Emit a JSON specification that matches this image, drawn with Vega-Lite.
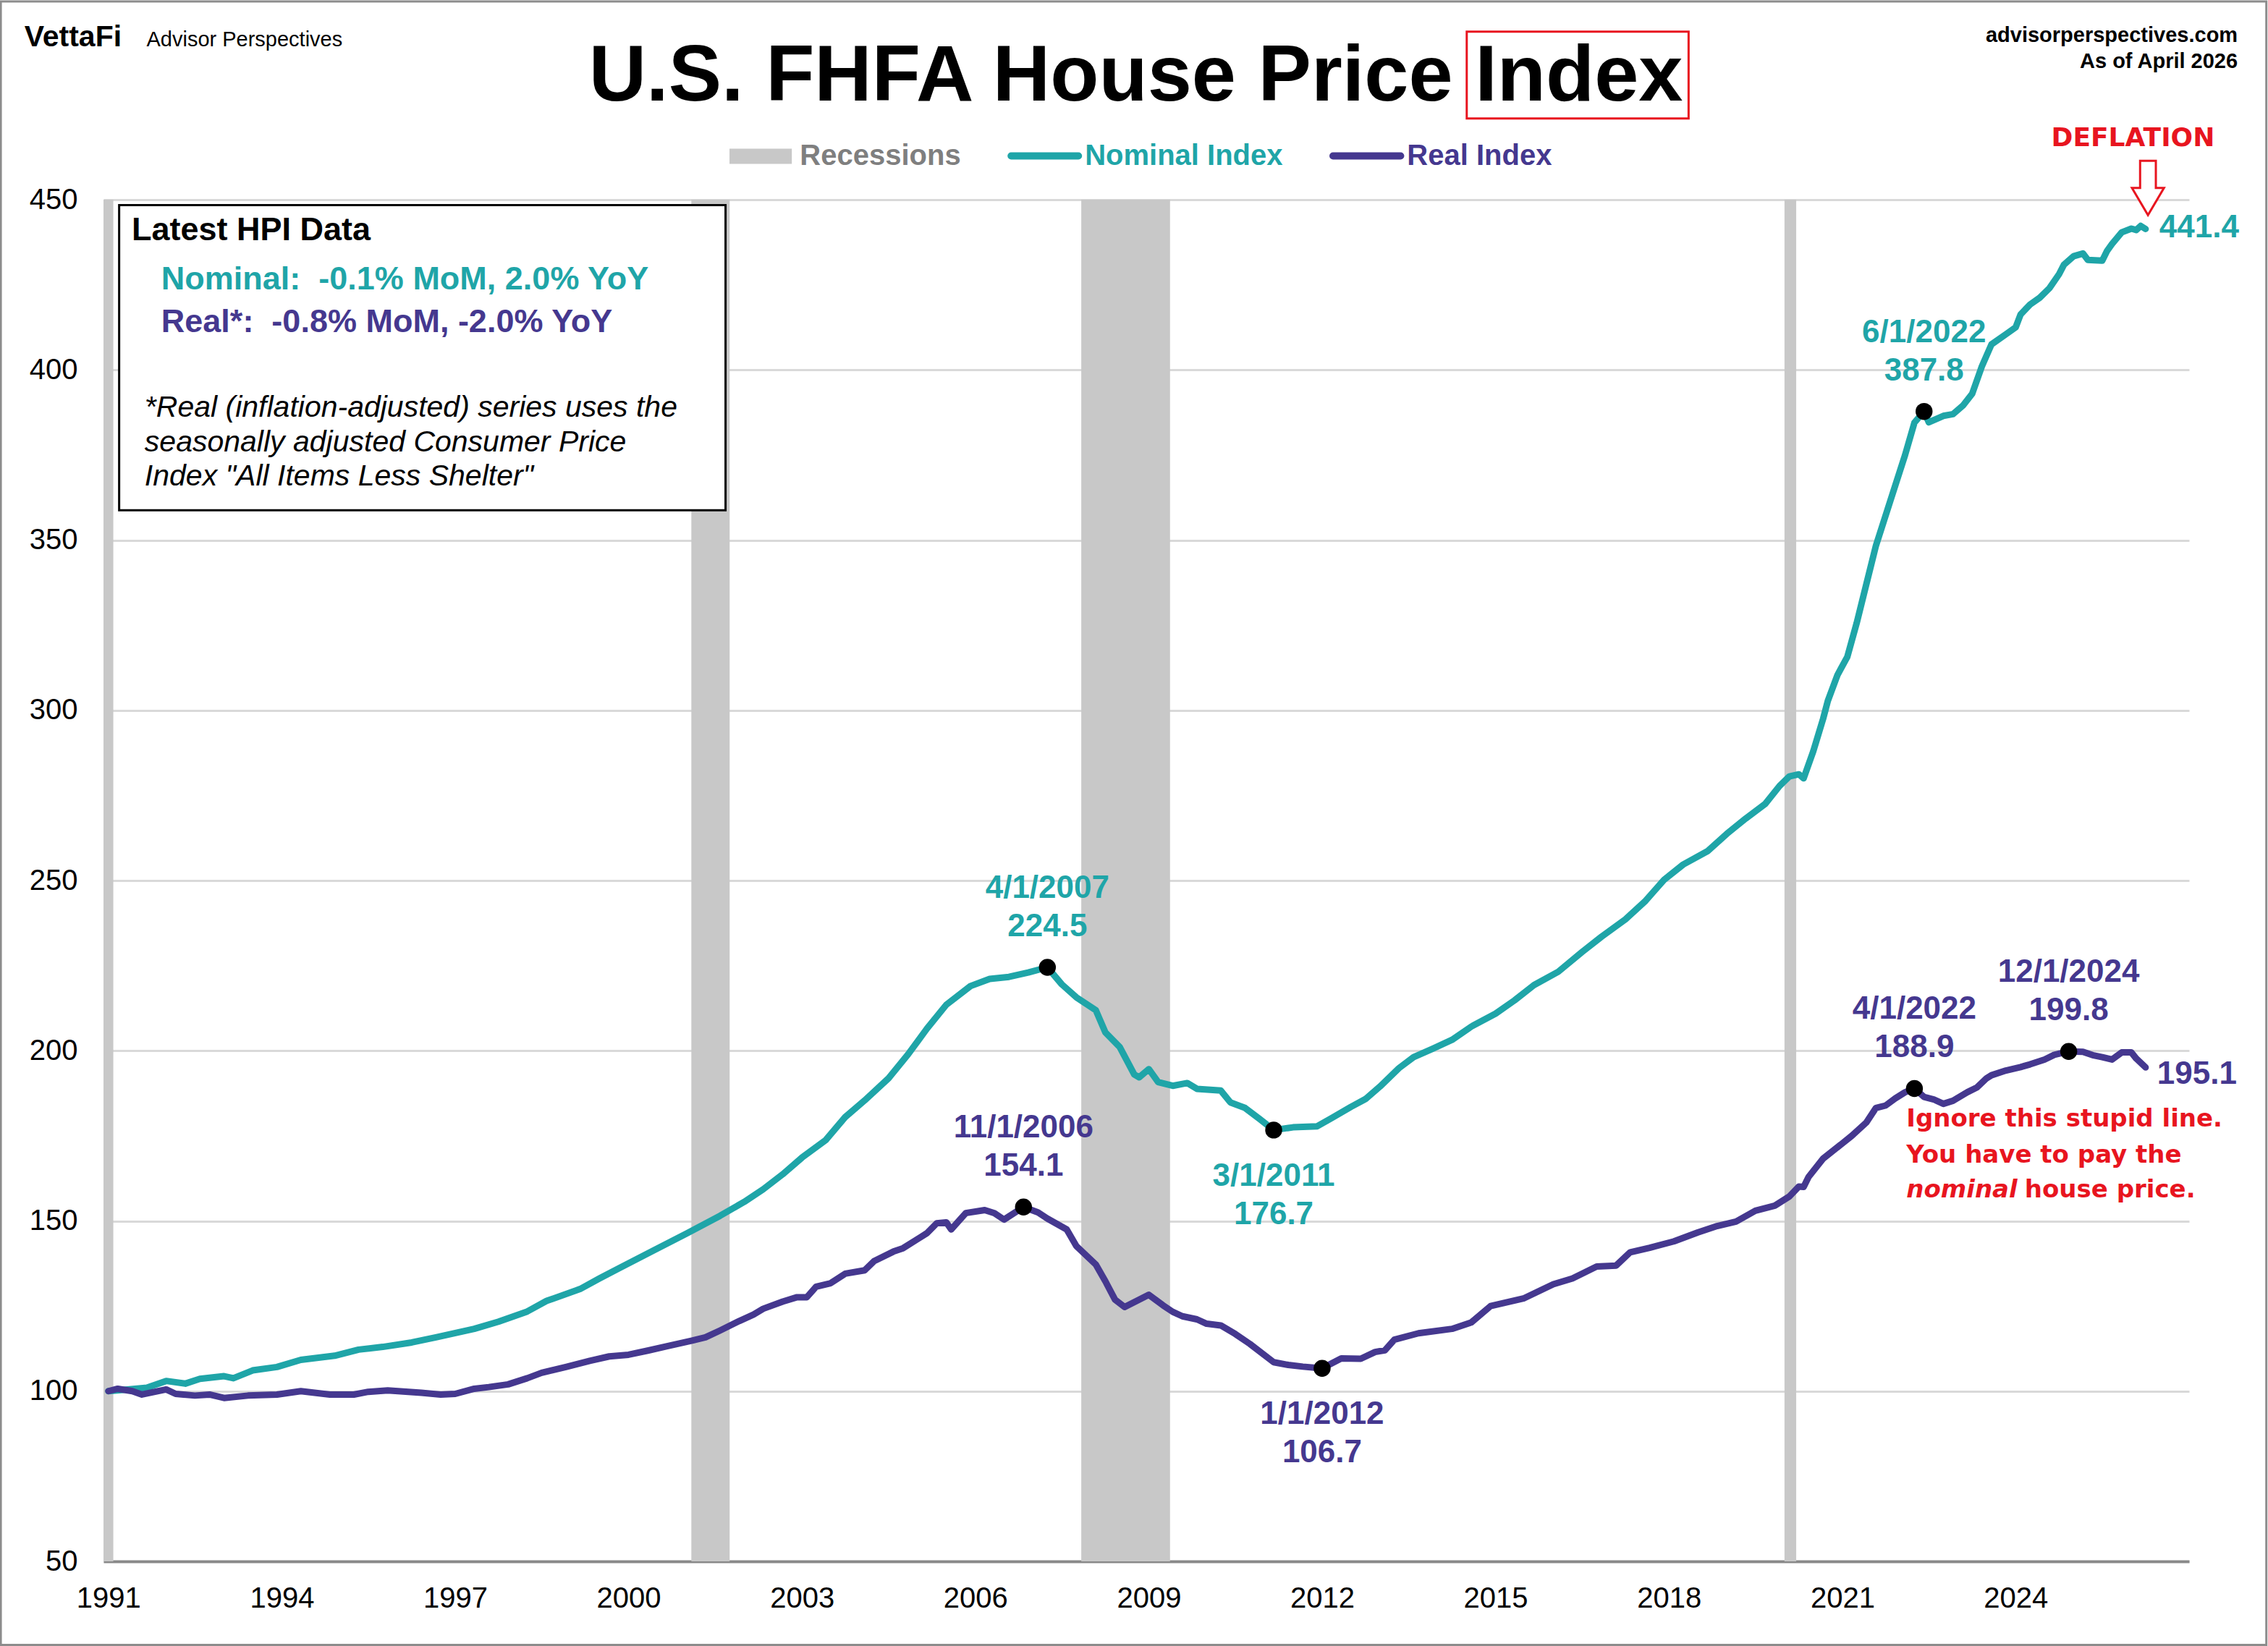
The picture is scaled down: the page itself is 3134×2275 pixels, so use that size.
{
  "$schema": "https://vega.github.io/schema/vega-lite/v6.json",
  "width": 2882,
  "height": 1882,
  "autosize": "none",
  "padding": {"left": 143, "top": 276, "right": 109, "bottom": 117},
  "background": "white",
  "config": {
    "font": "Liberation Sans",
    "view": {"stroke": null},
    "axis": {"labelFont": "Liberation Sans", "labelFontSize": 40, "labelColor": "#000000", "ticks": false},
    "axisX": {"domainColor": "#898989", "domainWidth": 4, "grid": false, "labelPadding": 31, "zindex": 1},
    "axisY": {"domain": false, "grid": true, "gridColor": "#D9D9D9", "gridWidth": 3, "labelPadding": 36}
  },
  "datasets": {
    "rec": [
      {"start": "1990-07-01", "end": "1991-02-01"},
      {"start": "2001-02-01", "end": "2001-10-01"},
      {"start": "2007-11-01", "end": "2009-05-15"},
      {"start": "2020-01-01", "end": "2020-03-15"}
    ],
    "hpi": [
      {"date": "1991-01-01", "series": "Nominal", "value": 100},
      {"date": "1991-05-01", "series": "Nominal", "value": 100.5},
      {"date": "1991-09-01", "series": "Nominal", "value": 101},
      {"date": "1992-01-01", "series": "Nominal", "value": 103},
      {"date": "1992-05-01", "series": "Nominal", "value": 102.2},
      {"date": "1992-08-01", "series": "Nominal", "value": 103.6},
      {"date": "1993-01-01", "series": "Nominal", "value": 104.4},
      {"date": "1993-03-01", "series": "Nominal", "value": 103.8},
      {"date": "1993-07-01", "series": "Nominal", "value": 106.1},
      {"date": "1993-12-01", "series": "Nominal", "value": 107.1},
      {"date": "1994-05-01", "series": "Nominal", "value": 109.2},
      {"date": "1994-12-01", "series": "Nominal", "value": 110.4},
      {"date": "1995-05-01", "series": "Nominal", "value": 112.2},
      {"date": "1995-10-01", "series": "Nominal", "value": 113},
      {"date": "1996-04-01", "series": "Nominal", "value": 114.3},
      {"date": "1996-09-01", "series": "Nominal", "value": 115.8},
      {"date": "1997-05-01", "series": "Nominal", "value": 118.3},
      {"date": "1997-10-01", "series": "Nominal", "value": 120.4},
      {"date": "1998-04-01", "series": "Nominal", "value": 123.4},
      {"date": "1998-08-01", "series": "Nominal", "value": 126.5},
      {"date": "1999-03-01", "series": "Nominal", "value": 130},
      {"date": "1999-07-01", "series": "Nominal", "value": 133.1},
      {"date": "1999-11-01", "series": "Nominal", "value": 136.1},
      {"date": "2000-06-01", "series": "Nominal", "value": 141.2},
      {"date": "2001-01-01", "series": "Nominal", "value": 146.3},
      {"date": "2001-08-01", "series": "Nominal", "value": 151.5},
      {"date": "2002-01-01", "series": "Nominal", "value": 155.6},
      {"date": "2002-05-01", "series": "Nominal", "value": 159.3},
      {"date": "2002-09-01", "series": "Nominal", "value": 163.7},
      {"date": "2003-01-01", "series": "Nominal", "value": 168.6},
      {"date": "2003-06-01", "series": "Nominal", "value": 173.8},
      {"date": "2003-10-01", "series": "Nominal", "value": 180.5},
      {"date": "2004-02-01", "series": "Nominal", "value": 185.4},
      {"date": "2004-07-01", "series": "Nominal", "value": 191.9},
      {"date": "2004-11-01", "series": "Nominal", "value": 198.9},
      {"date": "2005-03-01", "series": "Nominal", "value": 206.5},
      {"date": "2005-07-01", "series": "Nominal", "value": 213.5},
      {"date": "2005-12-01", "series": "Nominal", "value": 219},
      {"date": "2006-04-01", "series": "Nominal", "value": 221.1},
      {"date": "2006-08-01", "series": "Nominal", "value": 221.7},
      {"date": "2006-12-01", "series": "Nominal", "value": 223},
      {"date": "2007-04-01", "series": "Nominal", "value": 224.5},
      {"date": "2007-07-01", "series": "Nominal", "value": 219.5},
      {"date": "2007-10-01", "series": "Nominal", "value": 215.7},
      {"date": "2008-02-01", "series": "Nominal", "value": 211.9},
      {"date": "2008-04-01", "series": "Nominal", "value": 205.4},
      {"date": "2008-07-01", "series": "Nominal", "value": 201.1},
      {"date": "2008-10-01", "series": "Nominal", "value": 193},
      {"date": "2008-11-01", "series": "Nominal", "value": 192.2},
      {"date": "2009-01-01", "series": "Nominal", "value": 194.6},
      {"date": "2009-03-01", "series": "Nominal", "value": 190.8},
      {"date": "2009-06-01", "series": "Nominal", "value": 189.7},
      {"date": "2009-09-01", "series": "Nominal", "value": 190.5},
      {"date": "2009-11-01", "series": "Nominal", "value": 188.8},
      {"date": "2010-04-01", "series": "Nominal", "value": 188.3},
      {"date": "2010-06-01", "series": "Nominal", "value": 184.8},
      {"date": "2010-09-01", "series": "Nominal", "value": 183.2},
      {"date": "2010-12-01", "series": "Nominal", "value": 180},
      {"date": "2011-03-01", "series": "Nominal", "value": 176.7},
      {"date": "2011-07-01", "series": "Nominal", "value": 177.5},
      {"date": "2011-12-01", "series": "Nominal", "value": 177.8},
      {"date": "2012-03-01", "series": "Nominal", "value": 180.2},
      {"date": "2012-07-01", "series": "Nominal", "value": 183.5},
      {"date": "2012-10-01", "series": "Nominal", "value": 185.8},
      {"date": "2013-01-01", "series": "Nominal", "value": 189.5},
      {"date": "2013-05-01", "series": "Nominal", "value": 194.9},
      {"date": "2013-08-01", "series": "Nominal", "value": 198.1},
      {"date": "2013-12-01", "series": "Nominal", "value": 200.6},
      {"date": "2014-04-01", "series": "Nominal", "value": 203.2},
      {"date": "2014-08-01", "series": "Nominal", "value": 207.1},
      {"date": "2015-01-01", "series": "Nominal", "value": 210.9},
      {"date": "2015-05-01", "series": "Nominal", "value": 214.8},
      {"date": "2015-09-01", "series": "Nominal", "value": 219.3},
      {"date": "2016-02-01", "series": "Nominal", "value": 223.2},
      {"date": "2016-07-01", "series": "Nominal", "value": 229},
      {"date": "2016-11-01", "series": "Nominal", "value": 233.5},
      {"date": "2017-04-01", "series": "Nominal", "value": 238.6},
      {"date": "2017-08-01", "series": "Nominal", "value": 243.8},
      {"date": "2017-12-01", "series": "Nominal", "value": 250.2},
      {"date": "2018-04-01", "series": "Nominal", "value": 254.7},
      {"date": "2018-09-01", "series": "Nominal", "value": 258.6},
      {"date": "2019-01-01", "series": "Nominal", "value": 263.7},
      {"date": "2019-05-01", "series": "Nominal", "value": 268.2},
      {"date": "2019-09-01", "series": "Nominal", "value": 272.5},
      {"date": "2019-12-01", "series": "Nominal", "value": 277.8},
      {"date": "2020-02-01", "series": "Nominal", "value": 280.6},
      {"date": "2020-04-01", "series": "Nominal", "value": 281.2},
      {"date": "2020-05-01", "series": "Nominal", "value": 280},
      {"date": "2020-07-01", "series": "Nominal", "value": 288},
      {"date": "2020-09-01", "series": "Nominal", "value": 297.5},
      {"date": "2020-10-01", "series": "Nominal", "value": 302.8},
      {"date": "2020-12-01", "series": "Nominal", "value": 310.4},
      {"date": "2021-02-01", "series": "Nominal", "value": 315.7},
      {"date": "2021-04-01", "series": "Nominal", "value": 325.6},
      {"date": "2021-06-01", "series": "Nominal", "value": 337},
      {"date": "2021-08-01", "series": "Nominal", "value": 348.4},
      {"date": "2021-11-01", "series": "Nominal", "value": 361.7},
      {"date": "2022-02-01", "series": "Nominal", "value": 375},
      {"date": "2022-04-01", "series": "Nominal", "value": 384.5},
      {"date": "2022-06-01", "series": "Nominal", "value": 387.8},
      {"date": "2022-07-01", "series": "Nominal", "value": 384.6},
      {"date": "2022-10-01", "series": "Nominal", "value": 386.5},
      {"date": "2022-12-01", "series": "Nominal", "value": 387},
      {"date": "2023-02-01", "series": "Nominal", "value": 389.5},
      {"date": "2023-04-01", "series": "Nominal", "value": 393},
      {"date": "2023-06-01", "series": "Nominal", "value": 401},
      {"date": "2023-08-01", "series": "Nominal", "value": 407.5},
      {"date": "2023-11-01", "series": "Nominal", "value": 410.5},
      {"date": "2024-01-01", "series": "Nominal", "value": 412.5},
      {"date": "2024-02-01", "series": "Nominal", "value": 416.3},
      {"date": "2024-04-01", "series": "Nominal", "value": 419.2},
      {"date": "2024-06-01", "series": "Nominal", "value": 421.2},
      {"date": "2024-08-01", "series": "Nominal", "value": 424},
      {"date": "2024-10-01", "series": "Nominal", "value": 428.1},
      {"date": "2024-11-01", "series": "Nominal", "value": 430.9},
      {"date": "2025-01-01", "series": "Nominal", "value": 433.4},
      {"date": "2025-03-01", "series": "Nominal", "value": 434.2},
      {"date": "2025-04-01", "series": "Nominal", "value": 432.3},
      {"date": "2025-07-01", "series": "Nominal", "value": 432.1},
      {"date": "2025-08-01", "series": "Nominal", "value": 435},
      {"date": "2025-09-01", "series": "Nominal", "value": 437},
      {"date": "2025-11-01", "series": "Nominal", "value": 440.4},
      {"date": "2026-01-01", "series": "Nominal", "value": 441.5},
      {"date": "2026-02-01", "series": "Nominal", "value": 441.1},
      {"date": "2026-03-01", "series": "Nominal", "value": 442.3},
      {"date": "2026-04-01", "series": "Nominal", "value": 441.4},
      {"date": "1991-01-01", "series": "Real", "value": 100},
      {"date": "1991-03-01", "series": "Real", "value": 100.7},
      {"date": "1991-06-01", "series": "Real", "value": 100},
      {"date": "1991-08-01", "series": "Real", "value": 99},
      {"date": "1992-01-01", "series": "Real", "value": 100.5},
      {"date": "1992-03-01", "series": "Real", "value": 99.2},
      {"date": "1992-07-01", "series": "Real", "value": 98.7},
      {"date": "1992-10-01", "series": "Real", "value": 99},
      {"date": "1993-01-01", "series": "Real", "value": 98},
      {"date": "1993-06-01", "series": "Real", "value": 98.7},
      {"date": "1993-12-01", "series": "Real", "value": 99},
      {"date": "1994-05-01", "series": "Real", "value": 100},
      {"date": "1994-11-01", "series": "Real", "value": 99},
      {"date": "1995-04-01", "series": "Real", "value": 99},
      {"date": "1995-07-01", "series": "Real", "value": 99.8},
      {"date": "1995-11-01", "series": "Real", "value": 100.2},
      {"date": "1996-06-01", "series": "Real", "value": 99.5},
      {"date": "1996-10-01", "series": "Real", "value": 99},
      {"date": "1997-01-01", "series": "Real", "value": 99.2},
      {"date": "1997-05-01", "series": "Real", "value": 100.7},
      {"date": "1997-08-01", "series": "Real", "value": 101.2},
      {"date": "1997-12-01", "series": "Real", "value": 102},
      {"date": "1998-04-01", "series": "Real", "value": 103.8},
      {"date": "1998-07-01", "series": "Real", "value": 105.4},
      {"date": "1998-12-01", "series": "Real", "value": 107.1},
      {"date": "1999-05-01", "series": "Real", "value": 108.9},
      {"date": "1999-09-01", "series": "Real", "value": 110.2},
      {"date": "2000-01-01", "series": "Real", "value": 110.7},
      {"date": "2000-05-01", "series": "Real", "value": 111.9},
      {"date": "2000-09-01", "series": "Real", "value": 113.2},
      {"date": "2001-02-01", "series": "Real", "value": 114.8},
      {"date": "2001-05-01", "series": "Real", "value": 115.8},
      {"date": "2001-08-01", "series": "Real", "value": 117.8},
      {"date": "2001-12-01", "series": "Real", "value": 120.6},
      {"date": "2002-03-01", "series": "Real", "value": 122.5},
      {"date": "2002-05-01", "series": "Real", "value": 124.2},
      {"date": "2002-09-01", "series": "Real", "value": 126.3},
      {"date": "2002-12-01", "series": "Real", "value": 127.6},
      {"date": "2003-02-01", "series": "Real", "value": 127.6},
      {"date": "2003-04-01", "series": "Real", "value": 130.7},
      {"date": "2003-07-01", "series": "Real", "value": 131.7},
      {"date": "2003-10-01", "series": "Real", "value": 134.5},
      {"date": "2004-02-01", "series": "Real", "value": 135.5},
      {"date": "2004-04-01", "series": "Real", "value": 138.2},
      {"date": "2004-08-01", "series": "Real", "value": 141},
      {"date": "2004-10-01", "series": "Real", "value": 142},
      {"date": "2005-01-01", "series": "Real", "value": 144.7},
      {"date": "2005-03-01", "series": "Real", "value": 146.4},
      {"date": "2005-05-01", "series": "Real", "value": 149.3},
      {"date": "2005-07-01", "series": "Real", "value": 149.6},
      {"date": "2005-08-01", "series": "Real", "value": 147.5},
      {"date": "2005-11-01", "series": "Real", "value": 152.3},
      {"date": "2006-03-01", "series": "Real", "value": 153.2},
      {"date": "2006-05-01", "series": "Real", "value": 152.3},
      {"date": "2006-07-01", "series": "Real", "value": 150.4},
      {"date": "2006-11-01", "series": "Real", "value": 154.1},
      {"date": "2007-02-01", "series": "Real", "value": 152.5},
      {"date": "2007-04-01", "series": "Real", "value": 150.7},
      {"date": "2007-08-01", "series": "Real", "value": 147.5},
      {"date": "2007-10-01", "series": "Real", "value": 142.6},
      {"date": "2008-02-01", "series": "Real", "value": 137.2},
      {"date": "2008-04-01", "series": "Real", "value": 132.3},
      {"date": "2008-06-01", "series": "Real", "value": 126.9},
      {"date": "2008-08-01", "series": "Real", "value": 124.7},
      {"date": "2009-01-01", "series": "Real", "value": 128.3},
      {"date": "2009-04-01", "series": "Real", "value": 125.2},
      {"date": "2009-06-01", "series": "Real", "value": 123.3},
      {"date": "2009-08-01", "series": "Real", "value": 122},
      {"date": "2009-11-01", "series": "Real", "value": 121.1},
      {"date": "2010-01-01", "series": "Real", "value": 119.8},
      {"date": "2010-04-01", "series": "Real", "value": 119.3},
      {"date": "2010-07-01", "series": "Real", "value": 116.8},
      {"date": "2010-10-01", "series": "Real", "value": 113.9},
      {"date": "2011-03-01", "series": "Real", "value": 108.5},
      {"date": "2011-06-01", "series": "Real", "value": 107.7},
      {"date": "2011-09-01", "series": "Real", "value": 107.2},
      {"date": "2012-01-01", "series": "Real", "value": 106.7},
      {"date": "2012-05-01", "series": "Real", "value": 109.6},
      {"date": "2012-09-01", "series": "Real", "value": 109.5},
      {"date": "2012-12-01", "series": "Real", "value": 111.5},
      {"date": "2013-02-01", "series": "Real", "value": 112},
      {"date": "2013-04-01", "series": "Real", "value": 115.1},
      {"date": "2013-09-01", "series": "Real", "value": 117},
      {"date": "2014-04-01", "series": "Real", "value": 118.3},
      {"date": "2014-08-01", "series": "Real", "value": 120.2},
      {"date": "2014-12-01", "series": "Real", "value": 125},
      {"date": "2015-07-01", "series": "Real", "value": 127.3},
      {"date": "2016-01-01", "series": "Real", "value": 131.4},
      {"date": "2016-05-01", "series": "Real", "value": 133.1},
      {"date": "2016-10-01", "series": "Real", "value": 136.6},
      {"date": "2017-02-01", "series": "Real", "value": 136.9},
      {"date": "2017-05-01", "series": "Real", "value": 140.8},
      {"date": "2017-09-01", "series": "Real", "value": 142.1},
      {"date": "2018-02-01", "series": "Real", "value": 144},
      {"date": "2018-07-01", "series": "Real", "value": 146.6},
      {"date": "2018-11-01", "series": "Real", "value": 148.5},
      {"date": "2019-03-01", "series": "Real", "value": 149.8},
      {"date": "2019-07-01", "series": "Real", "value": 153},
      {"date": "2019-11-01", "series": "Real", "value": 154.5},
      {"date": "2020-02-01", "series": "Real", "value": 157.2},
      {"date": "2020-04-01", "series": "Real", "value": 160.1},
      {"date": "2020-05-01", "series": "Real", "value": 160},
      {"date": "2020-06-01", "series": "Real", "value": 162.9},
      {"date": "2020-09-01", "series": "Real", "value": 168.3},
      {"date": "2021-01-01", "series": "Real", "value": 172.8},
      {"date": "2021-03-01", "series": "Real", "value": 175},
      {"date": "2021-06-01", "series": "Real", "value": 178.9},
      {"date": "2021-08-01", "series": "Real", "value": 183.2},
      {"date": "2021-10-01", "series": "Real", "value": 183.9},
      {"date": "2021-12-01", "series": "Real", "value": 186},
      {"date": "2022-02-01", "series": "Real", "value": 187.8},
      {"date": "2022-04-01", "series": "Real", "value": 188.9},
      {"date": "2022-06-01", "series": "Real", "value": 186.4},
      {"date": "2022-08-01", "series": "Real", "value": 185.7},
      {"date": "2022-10-01", "series": "Real", "value": 184.4},
      {"date": "2022-12-01", "series": "Real", "value": 185.3},
      {"date": "2023-03-01", "series": "Real", "value": 187.8},
      {"date": "2023-05-01", "series": "Real", "value": 189.2},
      {"date": "2023-07-01", "series": "Real", "value": 191.9},
      {"date": "2023-08-01", "series": "Real", "value": 192.8},
      {"date": "2023-11-01", "series": "Real", "value": 194.2},
      {"date": "2024-02-01", "series": "Real", "value": 195.2},
      {"date": "2024-04-01", "series": "Real", "value": 196},
      {"date": "2024-07-01", "series": "Real", "value": 197.4},
      {"date": "2024-09-01", "series": "Real", "value": 198.8},
      {"date": "2024-12-01", "series": "Real", "value": 199.8},
      {"date": "2025-03-01", "series": "Real", "value": 199.7},
      {"date": "2025-05-01", "series": "Real", "value": 198.7},
      {"date": "2025-07-01", "series": "Real", "value": 198.1},
      {"date": "2025-09-01", "series": "Real", "value": 197.4},
      {"date": "2025-11-01", "series": "Real", "value": 199.5},
      {"date": "2026-01-01", "series": "Real", "value": 199.5},
      {"date": "2026-02-01", "series": "Real", "value": 197.7},
      {"date": "2026-04-01", "series": "Real", "value": 195.1}
    ],
    "ann": [
      {"date": "2007-04-01", "value": 224.5, "series": "Nominal", "pos": "above", "label": "4/1/2007\n224.5"},
      {"date": "2011-03-01", "value": 176.7, "series": "Nominal", "pos": "below", "label": "3/1/2011\n176.7"},
      {"date": "2022-06-01", "value": 387.8, "series": "Nominal", "pos": "above", "label": "6/1/2022\n387.8"},
      {"date": "2006-11-01", "value": 154.1, "series": "Real", "pos": "above", "label": "11/1/2006\n154.1"},
      {"date": "2012-01-01", "value": 106.7, "series": "Real", "pos": "below", "label": "1/1/2012\n106.7"},
      {"date": "2022-04-01", "value": 188.9, "series": "Real", "pos": "above", "label": "4/1/2022\n188.9"},
      {"date": "2024-12-01", "value": 199.8, "series": "Real", "pos": "above", "label": "12/1/2024\n199.8"}
    ]
  },
  "layer": [
    {
      "data": {"name": "rec"},
      "mark": {"type": "rect", "color": "#C8C8C8", "clip": true},
      "encoding": {
        "x": {"field": "start", "type": "temporal", "title": null},
        "x2": {"field": "end"},
        "y": {"datum": 450, "type": "quantitative"},
        "y2": {"datum": 50}
      }
    },
    {
      "data": {"name": "hpi"},
      "mark": {"type": "line", "strokeWidth": 9, "strokeCap": "round", "strokeJoin": "round"},
      "encoding": {
        "x": {
          "field": "date", "type": "temporal", "title": null,
          "scale": {"domain": [{"year": 1990, "month": 12, "date": 1}, {"year": 2027, "month": 1, "date": 1}]},
          "axis": {"format": "%Y", "values": [{"year": 1991}, {"year": 1994}, {"year": 1997}, {"year": 2000}, {"year": 2003}, {"year": 2006}, {"year": 2009}, {"year": 2012}, {"year": 2015}, {"year": 2018}, {"year": 2021}, {"year": 2024}]}
        },
        "y": {
          "field": "value", "type": "quantitative", "title": null,
          "scale": {"domain": [50, 450], "zero": false, "nice": false},
          "axis": {"values": [50, 100, 150, 200, 250, 300, 350, 400, 450]}
        },
        "color": {"field": "series", "type": "nominal", "legend": null, "scale": {"domain": ["Nominal", "Real"], "range": ["#1FA5A8", "#45388F"]}}
      }
    },
    {
      "data": {"name": "ann"},
      "mark": {"type": "circle", "size": 550, "color": "#000000", "opacity": 1},
      "encoding": {
        "x": {"field": "date", "type": "temporal", "title": null},
        "y": {"field": "value", "type": "quantitative", "title": null}
      }
    },
    {
      "data": {"name": "ann"},
      "transform": [{"filter": "datum.pos === 'above'"}],
      "mark": {"type": "text", "fontSize": 44, "fontWeight": "bold", "align": "center", "baseline": "alphabetic", "dy": -96, "lineHeight": 53, "lineBreak": "\n"},
      "encoding": {
        "x": {"field": "date", "type": "temporal", "title": null},
        "y": {"field": "value", "type": "quantitative", "title": null},
        "text": {"field": "label", "type": "nominal"},
        "color": {"field": "series", "type": "nominal", "legend": null}
      }
    },
    {
      "data": {"name": "ann"},
      "transform": [{"filter": "datum.pos === 'below'"}],
      "mark": {"type": "text", "fontSize": 44, "fontWeight": "bold", "align": "center", "baseline": "alphabetic", "dy": 77, "lineHeight": 53, "lineBreak": "\n"},
      "encoding": {
        "x": {"field": "date", "type": "temporal", "title": null},
        "y": {"field": "value", "type": "quantitative", "title": null},
        "text": {"field": "label", "type": "nominal"},
        "color": {"field": "series", "type": "nominal", "legend": null}
      }
    },
    {
      "data": {"values": [{}]},
      "mark": {"type": "text", "text": "441.4", "fontSize": 44, "fontWeight": "bold", "align": "left", "baseline": "middle", "dx": 19, "dy": -1, "color": "#1FA5A8"},
      "encoding": {"x": {"datum": {"year": 2026, "month": 4, "date": 1}, "type": "temporal"}, "y": {"datum": 441.4, "type": "quantitative"}}
    },
    {
      "data": {"values": [{}]},
      "mark": {"type": "text", "text": "195.1", "fontSize": 44, "fontWeight": "bold", "align": "left", "baseline": "middle", "dx": 16, "dy": 10, "color": "#45388F"},
      "encoding": {"x": {"datum": {"year": 2026, "month": 4, "date": 1}, "type": "temporal"}, "y": {"datum": 195.1, "type": "quantitative"}}
    },
    {
      "data": {"values": [{}]},
      "mark": {"type": "rect", "fill": "#FFFFFF", "stroke": "#000000", "strokeWidth": 3},
      "encoding": {
        "x": {"datum": {"year": 1991, "month": 3, "date": 10}, "type": "temporal"},
        "x2": {"datum": {"year": 2001, "month": 9, "date": 5}},
        "y": {"datum": 448.43, "type": "quantitative"},
        "y2": {"datum": 358.76}
      }
    },
    {
      "data": {"values": [{}]},
      "mark": {"type": "text", "text": "Latest HPI Data", "fontSize": 45, "fontWeight": "bold", "align": "left", "baseline": "alphabetic", "color": "#000000"},
      "encoding": {"x": {"datum": {"year": 1991, "month": 5, "date": 28}, "type": "temporal"}, "y": {"datum": 438.12, "type": "quantitative"}}
    },
    {
      "data": {"values": [{}]},
      "mark": {"type": "text", "text": "Nominal:\u00a0\u00a0-0.1% MoM, 2.0% YoY", "fontSize": 45, "fontWeight": "bold", "align": "left", "baseline": "alphabetic", "color": "#1FA5A8"},
      "encoding": {"x": {"datum": {"year": 1991, "month": 12, "date": 1}, "type": "temporal"}, "y": {"datum": 423.7, "type": "quantitative"}}
    },
    {
      "data": {"values": [{}]},
      "mark": {"type": "text", "text": "Real*:\u00a0\u00a0-0.8% MoM, -2.0% YoY", "fontSize": 45, "fontWeight": "bold", "align": "left", "baseline": "alphabetic", "color": "#45388F"},
      "encoding": {"x": {"datum": {"year": 1991, "month": 12, "date": 1}, "type": "temporal"}, "y": {"datum": 411.03, "type": "quantitative"}}
    },
    {
      "data": {"values": [{}]},
      "mark": {"type": "text", "text": "*Real (inflation-adjusted) series uses the", "fontSize": 41, "fontStyle": "italic", "align": "left", "baseline": "alphabetic", "color": "#000000"},
      "encoding": {"x": {"datum": {"year": 1991, "month": 8, "date": 18}, "type": "temporal"}, "y": {"datum": 386.17, "type": "quantitative"}}
    },
    {
      "data": {"values": [{}]},
      "mark": {"type": "text", "text": "seasonally adjusted Consumer Price", "fontSize": 41, "fontStyle": "italic", "align": "left", "baseline": "alphabetic", "color": "#000000"},
      "encoding": {"x": {"datum": {"year": 1991, "month": 8, "date": 18}, "type": "temporal"}, "y": {"datum": 375.97, "type": "quantitative"}}
    },
    {
      "data": {"values": [{}]},
      "mark": {"type": "text", "text": "Index \"All Items Less Shelter\"", "fontSize": 41, "fontStyle": "italic", "align": "left", "baseline": "alphabetic", "color": "#000000"},
      "encoding": {"x": {"datum": {"year": 1991, "month": 8, "date": 18}, "type": "temporal"}, "y": {"datum": 365.98, "type": "quantitative"}}
    },
    {
      "data": {"values": [{}]},
      "mark": {"type": "text", "text": "Ignore this stupid line.", "font": "DejaVu Sans", "fontSize": 34, "fontWeight": "bold", "align": "left", "baseline": "alphabetic", "color": "#E8151F"},
      "encoding": {"x": {"datum": {"year": 2022, "month": 2, "date": 9}, "type": "temporal"}, "y": {"datum": 177.77, "type": "quantitative"}}
    },
    {
      "data": {"values": [{}]},
      "mark": {"type": "text", "text": "You have to pay the", "font": "DejaVu Sans", "fontSize": 34, "fontWeight": "bold", "align": "left", "baseline": "alphabetic", "color": "#E8151F"},
      "encoding": {"x": {"datum": {"year": 2022, "month": 2, "date": 9}, "type": "temporal"}, "y": {"datum": 167.15, "type": "quantitative"}}
    },
    {
      "data": {"values": [{}]},
      "mark": {"type": "text", "text": "nominal", "font": "DejaVu Sans", "fontSize": 34, "fontWeight": "bold", "fontStyle": "italic", "align": "left", "baseline": "alphabetic", "color": "#E8151F"},
      "encoding": {"x": {"datum": {"year": 2022, "month": 2, "date": 9}, "type": "temporal"}, "y": {"datum": 156.88, "type": "quantitative"}}
    },
    {
      "data": {"values": [{}]},
      "mark": {"type": "text", "text": "house price.", "font": "DejaVu Sans", "fontSize": 34, "fontWeight": "bold", "align": "left", "baseline": "alphabetic", "color": "#E8151F"},
      "encoding": {"x": {"datum": {"year": 2024, "month": 2, "date": 27}, "type": "temporal"}, "y": {"datum": 156.88, "type": "quantitative"}}
    },
    {
      "data": {"values": [{}]},
      "mark": {"type": "rect", "color": "#C8C8C8"},
      "encoding": {
        "x": {"datum": {"year": 2001, "month": 9, "date": 30}, "type": "temporal"},
        "x2": {"datum": {"year": 2002, "month": 10, "date": 29}},
        "y": {"datum": 465.0, "type": "quantitative"},
        "y2": {"datum": 460.54}
      }
    },
    {
      "data": {"values": [{}]},
      "mark": {"type": "text", "text": "Recessions", "fontSize": 40, "fontWeight": "bold", "align": "left", "baseline": "alphabetic", "color": "#7F7F7F"},
      "encoding": {"x": {"datum": {"year": 2002, "month": 12, "date": 19}, "type": "temporal"}, "y": {"datum": 460.12, "type": "quantitative"}}
    },
    {
      "data": {"values": [{}]},
      "mark": {"type": "rule", "strokeWidth": 10, "strokeCap": "round", "color": "#1FA5A8"},
      "encoding": {
        "x": {"datum": {"year": 2006, "month": 8, "date": 15}, "type": "temporal"},
        "x2": {"datum": {"year": 2007, "month": 10, "date": 14}},
        "y": {"datum": 462.87, "type": "quantitative"}
      }
    },
    {
      "data": {"values": [{}]},
      "mark": {"type": "text", "text": "Nominal Index", "fontSize": 40, "fontWeight": "bold", "align": "left", "baseline": "alphabetic", "color": "#1FA5A8"},
      "encoding": {"x": {"datum": {"year": 2007, "month": 11, "date": 24}, "type": "temporal"}, "y": {"datum": 460.12, "type": "quantitative"}}
    },
    {
      "data": {"values": [{}]},
      "mark": {"type": "rule", "strokeWidth": 10, "strokeCap": "round", "color": "#45388F"},
      "encoding": {
        "x": {"datum": {"year": 2012, "month": 3, "date": 10}, "type": "temporal"},
        "x2": {"datum": {"year": 2013, "month": 5, "date": 11}},
        "y": {"datum": 462.87, "type": "quantitative"}
      }
    },
    {
      "data": {"values": [{}]},
      "mark": {"type": "text", "text": "Real Index", "fontSize": 40, "fontWeight": "bold", "align": "left", "baseline": "alphabetic", "color": "#45388F"},
      "encoding": {"x": {"datum": {"year": 2013, "month": 6, "date": 21}, "type": "temporal"}, "y": {"datum": 460.12, "type": "quantitative"}}
    },
    {
      "data": {"values": [{}]},
      "mark": {"type": "text", "text": "U.S. FHFA House Price Index", "fontSize": 110, "fontWeight": "bold", "align": "center", "baseline": "alphabetic", "color": "#000000"},
      "encoding": {"x": {"datum": {"year": 2008, "month": 10, "date": 11}, "type": "temporal"}, "y": {"datum": 479.18, "type": "quantitative"}}
    },
    {
      "data": {"values": [{}]},
      "mark": {"type": "rect", "fill": "#FFFFFF", "fillOpacity": 0, "stroke": "#E8151F", "strokeWidth": 3},
      "encoding": {
        "x": {"datum": {"year": 2014, "month": 7, "date": 3}, "type": "temporal"},
        "x2": {"datum": {"year": 2018, "month": 5, "date": 5}},
        "y": {"datum": 499.37, "type": "quantitative"},
        "y2": {"datum": 473.87}
      }
    },
    {
      "data": {"values": [{}]},
      "mark": {"type": "rect", "fill": "#FFFFFF", "fillOpacity": 0, "stroke": "#8C8C8C", "strokeWidth": 3},
      "encoding": {
        "x": {"datum": {"year": 1989, "month": 2, "date": 20}, "type": "temporal"},
        "x2": {"datum": {"year": 2028, "month": 5, "date": 3}},
        "y": {"datum": 508.25, "type": "quantitative"},
        "y2": {"datum": 25.46}
      }
    },
    {
      "data": {"values": [{}]},
      "mark": {"type": "text", "text": "VettaFi", "fontSize": 41, "fontWeight": "bold", "align": "left", "baseline": "alphabetic", "color": "#000000"},
      "encoding": {"x": {"datum": {"year": 1989, "month": 7, "date": 19}, "type": "temporal"}, "y": {"datum": 494.96, "type": "quantitative"}}
    },
    {
      "data": {"values": [{}]},
      "mark": {"type": "text", "text": "Advisor Perspectives", "fontSize": 29, "align": "left", "baseline": "alphabetic", "color": "#000000"},
      "encoding": {"x": {"datum": {"year": 1991, "month": 8, "date": 30}, "type": "temporal"}, "y": {"datum": 494.96, "type": "quantitative"}}
    },
    {
      "data": {"values": [{}]},
      "mark": {"type": "text", "text": "advisorperspectives.com", "fontSize": 29, "fontWeight": "bold", "align": "right", "baseline": "alphabetic", "color": "#000000"},
      "encoding": {"x": {"datum": {"year": 2027, "month": 11, "date": 4}, "type": "temporal"}, "y": {"datum": 496.37, "type": "quantitative"}}
    },
    {
      "data": {"values": [{}]},
      "mark": {"type": "text", "text": "As of April 2026", "fontSize": 29, "fontWeight": "bold", "align": "right", "baseline": "alphabetic", "color": "#000000"},
      "encoding": {"x": {"datum": {"year": 2027, "month": 11, "date": 4}, "type": "temporal"}, "y": {"datum": 488.63, "type": "quantitative"}}
    },
    {
      "data": {"values": [{}]},
      "mark": {"type": "text", "text": "DEFLATION", "font": "DejaVu Sans", "fontSize": 36, "fontWeight": "bold", "align": "center", "baseline": "alphabetic", "color": "#E8151F"},
      "encoding": {"x": {"datum": {"year": 2026, "month": 1, "date": 11}, "type": "temporal"}, "y": {"datum": 465.64, "type": "quantitative"}}
    },
    {
      "data": {"values": [{}]},
      "mark": {"type": "point", "shape": "M -0.29 -1 L 0.29 -1 L 0.29 0 L 0.59 0 L 0 1 L -0.59 0 L -0.29 0 Z", "size": 5625, "filled": true, "fill": "#FFFFFF", "stroke": "#E8151F", "strokeWidth": 3, "opacity": 1},
      "encoding": {"x": {"datum": {"year": 2026, "month": 4, "date": 16}, "type": "temporal"}, "y": {"datum": 453.47, "type": "quantitative"}}
    }
  ]
}
